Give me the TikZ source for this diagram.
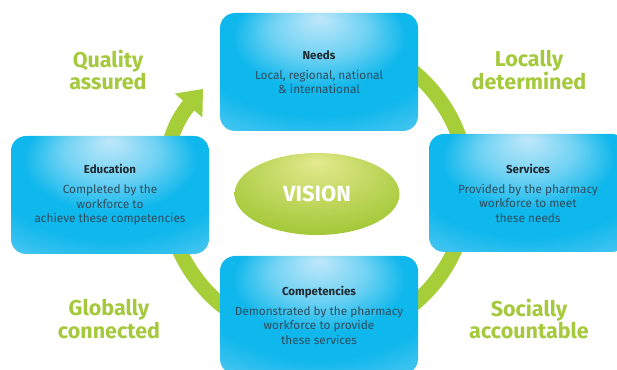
\documentclass[tikz,border=0pt]{standalone}
\usepackage{fontspec}
\setmainfont{Fira Sans}
\usetikzlibrary{arrows.meta,shapes.geometric}

\definecolor{cardHi}{RGB}{192,232,249}
\definecolor{cardMid}{RGB}{14,183,236}
\definecolor{cardLo}{RGB}{104,206,242}
\definecolor{visHi}{RGB}{228,234,142}
\definecolor{visLo}{RGB}{163,200,56}
\definecolor{ringGreen}{RGB}{166,206,57}
\definecolor{mottoGreen}{RGB}{165,201,60}
\definecolor{titleText}{RGB}{30,40,46}
\definecolor{bodyText}{RGB}{48,76,92}

\pgfdeclareradialshading{cardshade}{\pgfpoint{0bp}{23bp}}{%
  color(0bp)=(cardHi); color(12bp)=(cardHi!55!cardMid);
  color(22bp)=(cardMid); color(30bp)=(cardMid);
  color(46bp)=(cardLo); color(60bp)=(cardLo)}
\pgfdeclareradialshading{visionshade}{\pgfpoint{0bp}{20bp}}{%
  color(0bp)=(visHi); color(14bp)=(visHi!55!visLo);
  color(32bp)=(visLo); color(50bp)=(visLo)}

\newcommand{\cardtitle}[1]{{\color{titleText}\fontsize{11.5}{13}\selectfont\bfseries #1}}

\begin{document}
\begin{tikzpicture}[x=1pt,y=1pt,
  card/.style={rounded corners=15pt, minimum width=198pt, minimum height=118pt,
    inner sep=0pt, shading=cardshade, align=center, text=bodyText,
    font=\fontsize{11.8}{14.5}\selectfont},
  vision/.style={ellipse, minimum width=165pt, minimum height=82pt, inner sep=0pt,
    shading=visionshade, text=white, font=\fontsize{22}{22}\selectfont\bfseries},
  motto/.style={text=mottoGreen, align=center, inner sep=0pt,
    font=\fontsize{21.5}{20}\selectfont\bfseries},
  ring/.style={draw=ringGreen, line width=15pt}]
\useasboundingbox (0,0) rectangle (617,369);
\clip (0,0) rectangle (617,369);

\coordinate (hub) at (317,181);

% the cycle, ending in the arrow towards Needs
\draw[ring, -{Triangle[width=35pt,length=22pt]}] (hub) ++(125:151)
  arc[start angle=125, end angle=-221, radius=151];

\node[card] (needs) at (319,297) {\cardtitle{Needs}\\[5.5pt]
  Local, regional, national\\ \& international};
\node[card] (education) at (110,174) {\cardtitle{Education}\\[5.5pt]
  Completed by the\\ workforce to\\ achieve these competencies};
\node[card] (services) at (528,176) {\cardtitle{Services}\\[5.5pt]
  Provided by the pharmacy\\ workforce to meet\\ these needs};
\node[card] (competencies) at (319,54) {\cardtitle{Competencies}\\[5.5pt]
  Demonstrated by the pharmacy\\ workforce to provide\\ these services};

\node[vision] (vision) at (317,175) {VISION};

\node[motto] (quality) at (108,299) {Quality\\assured};
\node[motto] (locally) at (529,299) {Locally\\determined};
\node[motto] (globally) at (109,50) {Globally\\connected};
\node[motto] (socially) at (529,50) {Socially\\accountable};
\end{tikzpicture}
\end{document}
